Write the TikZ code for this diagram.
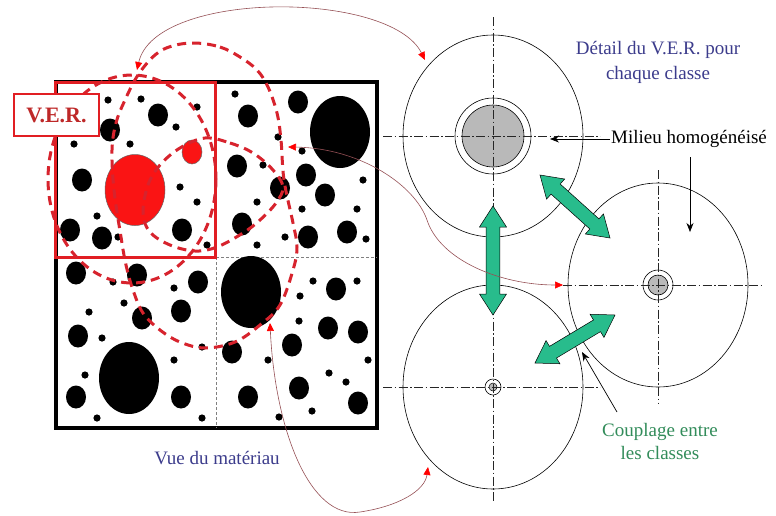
\documentclass[tikz,border=0pt]{standalone}
\usepackage{fontspec}
\setmainfont{Liberation Serif}
\usetikzlibrary{arrows.meta,calc}
\definecolor{redincl}{RGB}{250,20,20}
\definecolor{verred}{RGB}{225,30,35}
\definecolor{vertxt}{RGB}{190,40,40}
\definecolor{dashred}{RGB}{215,35,45}
\definecolor{bluetxt}{RGB}{60,60,140}
\definecolor{greentxt}{RGB}{50,140,90}
\definecolor{garrowcol}{RGB}{40,188,140}
\definecolor{curvecol}{RGB}{150,80,85}
\definecolor{diskgray}{RGB}{185,185,185}
\newcommand{\dbarrow}[2]{%
  \coordinate (ha) at ($(#1)!21pt!(#2)$);
  \coordinate (hb) at ($(#2)!21pt!(#1)$);
  \filldraw[fill=garrowcol,draw=black,line width=0.5pt]
  (#1) -- ($(ha)!13.5pt!90:(#2)$) -- ($(ha)!6.8pt!90:(#2)$) -- ($(hb)!6.8pt!-90:(#1)$)
  -- ($(hb)!13.5pt!-90:(#1)$) -- (#2) -- ($(hb)!13.5pt!90:(#1)$) -- ($(hb)!6.8pt!90:(#1)$)
  -- ($(ha)!6.8pt!-90:(#2)$) -- ($(ha)!13.5pt!-90:(#2)$) -- cycle;}
\begin{document}
\begin{tikzpicture}[x=1pt,y=-1pt,
  axisline/.style={line width=0.5pt, draw=black!85, dash pattern=on 9pt off 2.5pt on 1.5pt off 2.5pt},
  classcirc/.style={line width=0.6pt, draw=black},
  reddash/.style={draw=dashred, line width=3pt, dash pattern=on 9pt off 6pt},
  thincurve/.style={draw=curvecol, line width=0.6pt},
  redtips/.style={{Triangle[color=red,length=8pt,width=7pt]}-{Triangle[color=red,length=8pt,width=7pt]}},
  blackarrow/.style={draw=black, line width=0.7pt, -{Stealth[length=9pt,width=7pt]}},
  txt/.style={font=\fontsize{19}{25}\selectfont, inner sep=1pt, align=center}
]
\useasboundingbox (0,0) rectangle (776,515);
\fill[white] (0,0) rectangle (776,515);

% ---------- material ----------
\draw[line width=4pt] (56,82) rectangle (377,428);
\draw[gray, line width=0.9pt, dash pattern=on 3pt off 2pt] (216,257) -- (216,428);
\draw[gray, line width=0.9pt, dash pattern=on 3pt off 2pt] (216,257) -- (377,257);

% big inclusions
\foreach \p in {(340,132),(251,292),(129,378)}
  \fill \p ellipse (30 and 36);
% medium inclusions
\foreach \p in {(158,115),(110,130),(82,180),(70,230),(102,238),(182,230),
  (248,116),(298,102),(237,166),(306,175),(325,195),(280,188),(242,224),(308,237),(347,232),
  (336,289),(328,328),(358,332),(292,345),(232,352),(299,388),(248,397),(358,403),
  (76,273),(137,275),(198,282),(181,311),(142,318),(78,336),(76,397),(181,397)}
  \fill \p ellipse (10 and 11.5);
% small inclusions
\foreach \p in {(108,100),(141,99),(176,127),(197,107),(74,144),(130,144),(180,187),(197,202),(97,216),(118,237),(207,245),
  (235,94),(278,137),(302,151),(263,165),(363,180),(257,202),(302,209),(357,209),(285,237),(366,239),(257,245),
  (313,281),(357,281),(300,296),(299,321),(268,360),(368,360),(329,373),(346,382),(312,411),(279,417),
  (113,282),(174,288),(124,303),(89,312),(102,338),(202,347),(174,360),(85,375),(97,418),(202,418)}
  \fill \p circle (3.6);

% red inclusions
\filldraw[fill=redincl, draw=black!60, line width=0.5pt] (135,190) ellipse (30 and 35.5);
\filldraw[fill=redincl, draw=black!60, line width=0.5pt] (192,152) ellipse (10 and 12);

% V.E.R. square
\draw[draw=verred, line width=3pt] (55,82) rectangle (215,257);

% dashed V.E.R. circles
\draw[reddash] plot[smooth cycle, tension=0.6] coordinates {
  (195,43) (220,47) (240,57) (257,70) (268,87) (277,113) (281,140) (284,180) (293,223)
  (297,247) (293,270) (280,305) (260,325) (235,342) (205,348) (180,342) (160,330)
  (143,313) (133,290) (126,265) (121,237) (114,190) (112,150) (116,123) (125,100)
  (138,75) (155,55) (172,46)};
\draw[reddash] (132,179) ellipse (84 and 104);
\draw[reddash] plot[smooth cycle, tension=0.6] coordinates {
  (205,138) (230,143) (253,153) (273,170) (283,187) (276,203) (260,220) (243,233)
  (217,247) (195,251) (170,245) (150,232) (143,213) (148,185) (160,165) (180,148)};

% V.E.R. label
\node[draw=verred, line width=2.5pt, fill=white, minimum width=85pt, minimum height=42pt,
  inner sep=0pt, text=vertxt, font=\fontsize{22}{22}\selectfont\bfseries] (ver) at (56.5,115) {V.E.R.};

% ---------- classes ----------
\coordinate (c1) at (493,136);
\coordinate (c2) at (658,285);
\coordinate (c3) at (493,387);
\draw[classcirc] (c1) ellipse (90 and 101);
\draw[classcirc] (c2) ellipse (90 and 102);
\draw[classcirc] (c3) ellipse (90 and 102);
% inclusions with coating
\draw[line width=0.6pt] (c1) circle (38);
\filldraw[fill=diskgray, line width=0.6pt] (c1) circle (31);
\draw[line width=0.6pt] (c2) circle (15);
\filldraw[fill=diskgray, line width=0.6pt] (c2) circle (10);
\draw[line width=0.6pt] (c3) circle (8);
\filldraw[fill=diskgray, line width=0.5pt] (c3) circle (4);
% axes
\draw[axisline] (383,136) -- (600,136);
\draw[axisline] (493,17) -- (493,250);
\draw[axisline] (563,285) -- (762,285);
\draw[axisline] (658,170) -- (658,403);
\draw[axisline] (383,387) -- (600,387);
\draw[axisline] (493,275) -- (493,503);

% green coupling arrows
\coordinate (ga1) at (493,206); \coordinate (ga2) at (493,315);
\coordinate (gb1) at (540,175); \coordinate (gb2) at (610,238);
\coordinate (gc1) at (535,363); \coordinate (gc2) at (615,315);
\dbarrow{ga1}{ga2}
\dbarrow{gb1}{gb2}
\dbarrow{gc1}{gc2}

% ---------- texts ----------
\node[txt, text=bluetxt] (detail) at (658,62) {Détail du V.E.R. pour\\chaque classe};
\node[txt, anchor=west] (milieu) at (610,139) {Milieu homogénéisé};
\node[txt, text=greentxt, font=\fontsize{19}{23}\selectfont] (coupl) at (660,441) {Couplage entre\\les classes};
\node[txt, text=bluetxt] (vue) at (217,458) {Vue du matériau};

% black pointer arrows
\coordinate (mtip) at (550,139);
\coordinate (dstart) at (690,157);
\coordinate (dtip) at (690,232);
\coordinate (cpstart) at (617,412);
\coordinate (cptip) at (582,352);
\draw[blackarrow] (milieu.west) -- (mtip);
\draw[blackarrow] (dstart) -- (dtip);
\draw[blackarrow] (cpstart) -- (cptip);

% ---------- red curved links ----------
\coordinate (v1) at (137,70);
\coordinate (k1) at (425,60);
\coordinate (v2) at (288,147);
\coordinate (m2) at (427,220);
\coordinate (k2) at (563,285);
\coordinate (v3) at (270,323);
\coordinate (m3) at (360,512);
\coordinate (k3) at (428,467);
\draw[thincurve, redtips] (v1) .. controls (155,-10) and (390,-10) .. (k1);
\draw[thincurve, redtips] (v2) .. controls (360,148) and (415,185) .. (m2)
  .. controls (440,260) and (500,285) .. (k2);
\draw[thincurve, redtips] (v3) .. controls (275,430) and (310,520) .. (m3)
  .. controls (400,506) and (425,490) .. (k3);
\end{tikzpicture}
\end{document}
